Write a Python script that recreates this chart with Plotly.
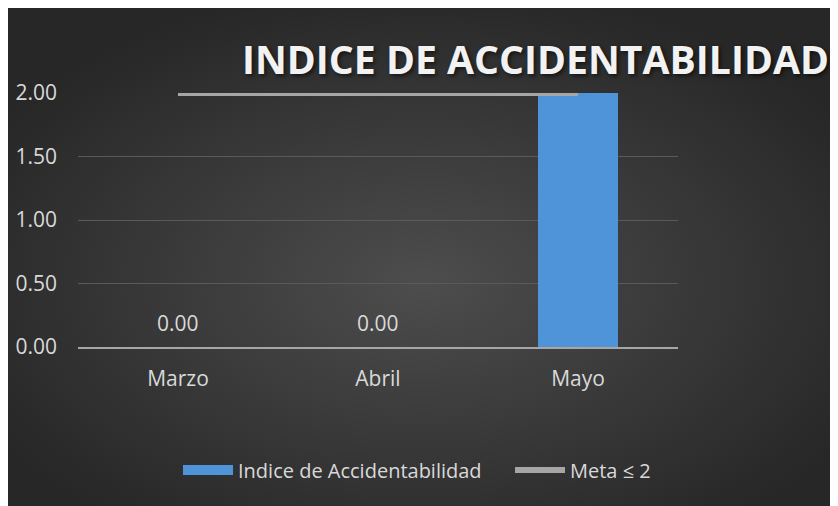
import base64
import plotly.graph_objects as go

meses = ["Marzo", "Abril", "Mayo"]
indice = [0.00, 0.00, 2.00]
mostrar_etiqueta = [True, True, False]
meta = [2, 2, 2]
y_ticks = [0, 0.5, 1.0, 1.5, 2.0]

# page body has an 8px margin, so the figure starts at (8, 8) in the window
W, H = 830, 498
L, R, T, B = 70, 160, 85, 159
pw, ph = W - L - R, H - T - B

svg = f'''<svg xmlns="http://www.w3.org/2000/svg" width="{W}" height="{H}" viewBox="0 0 {W} {H}" preserveAspectRatio="none">
<defs><radialGradient id="g" cx="0.5" cy="0.55" r="0.6" gradientUnits="objectBoundingBox">
<stop offset="0" stop-color="#4d4d4d"/><stop offset="1" stop-color="#272727"/></radialGradient></defs>
<rect x="0" y="0" width="{W}" height="{H}" fill="url(#g)"/>
</svg>'''
src = "data:image/svg+xml;base64," + base64.b64encode(svg.encode()).decode()

FONT = "Open Sans"
TXT = "#d9d9d9"
BLUE = "#4f93d8"

fig = go.Figure()
fig.add_trace(go.Bar(
    x=meses, y=indice, name="Indice de Accidentabilidad",
    marker=dict(color=BLUE, line=dict(width=0)),
    width=0.4, showlegend=False, legendgroup="ind",
))
# legend proxy for a wide rectangular swatch
fig.add_trace(go.Scatter(
    x=[meses[0]], y=[None], name="Indice de Accidentabilidad", mode="lines",
    line=dict(color=BLUE, width=14), legendgroup="ind", hoverinfo="skip",
    legend="legend",
))
fig.add_trace(go.Scatter(
    x=meses, y=meta, name="Meta ≤ 2", mode="lines",
    line=dict(color="#a6a6a6", width=6), cliponaxis=False, legend="legend2",
))

annotations = [
    dict(x=m, y=v, text=f"{v:.2f}", showarrow=False, yanchor="bottom", yshift=8,
         font=dict(size=21, color=TXT, family=FONT))
    for m, v, s in zip(meses, indice, mostrar_etiqueta) if s
]

legend_common = dict(orientation="h", xref="container", yref="container",
                     xanchor="left", y=1 - 462 / H, yanchor="middle",
                     font=dict(size=20, color=TXT), bgcolor="rgba(0,0,0,0)",
                     itemwidth=50)

fig.update_layout(
    width=W, height=H,
    margin=dict(l=L, r=R, t=T, b=B, autoexpand=False),
    paper_bgcolor="#2e2e2e", plot_bgcolor="rgba(0,0,0,0)",
    images=[dict(source=src, xref="paper", yref="paper",
                 x=-L / pw, y=1 + T / ph, sizex=W / pw, sizey=H / ph,
                 xanchor="left", yanchor="top", sizing="stretch", layer="below")],
    title=dict(text="<b>INDICE DE ACCIDENTABILIDAD</b>", xref="container", yref="container",
               x=234 / W, xanchor="left", y=1 - 52 / H, yanchor="middle",
               font=dict(family=FONT, size=39.2, color="#f2f2f2",
                         shadow="2px 2px 4px rgba(0,0,0,0.6)")),
    font=dict(family=FONT, color=TXT, size=20),
    showlegend=True,
    legend=dict(legend_common, x=170 / W),
    legend2=dict(legend_common, x=502 / W),
    annotations=annotations,
)
fig.update_yaxes(range=[0, 2], tickvals=y_ticks, tickformat=".2f", showgrid=True,
                 gridcolor="#5a5a5a", gridwidth=1, zeroline=False, showline=False,
                 ticklabelstandoff=20, tickfont=dict(size=21, color=TXT))
fig.update_xaxes(showline=True, linecolor="#a6a6a6", linewidth=2, showgrid=False,
                 ticks="", ticklabelstandoff=12, tickfont=dict(size=21, color=TXT))

fig.write_html("out.html")
